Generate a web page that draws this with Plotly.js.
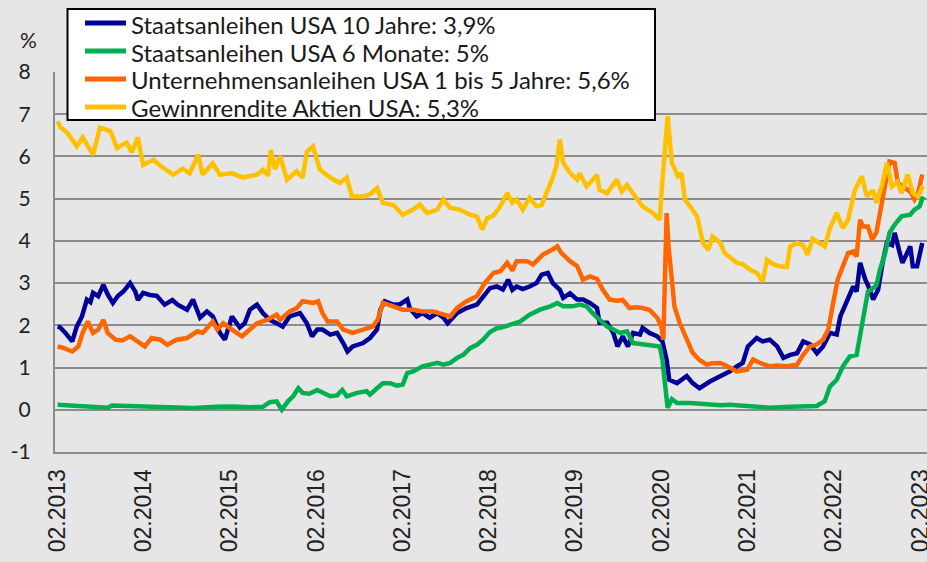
<!DOCTYPE html>
<html><head><meta charset="utf-8">
<script src="https://cdn.plot.ly/plotly-3.0.1.min.js"></script>
<style>html,body{margin:0;padding:0;background:#e6e6e6;}#chart{width:927px;height:562px;}</style>
</head><body><div id="chart"></div>
<script>
// Series names
const seriesNames = [
  "Staatsanleihen USA 10 Jahre: 3,9%",
  "Staatsanleihen USA 6 Monate: 5%",
  "Unternehmensanleihen USA 1 bis 5 Jahre: 5,6%",
  "Gewinnrendite Aktien USA: 5,3%"
];
// Time in decimal years, values in %
const t10y = [2013.09,2013.12,2013.18,2013.26,2013.31,2013.37,2013.43,2013.47,2013.50,2013.56,2013.62,2013.67,2013.73,2013.79,2013.85,2013.93,2013.99,2014.02,2014.08,2014.16,2014.24,2014.33,2014.42,2014.48,2014.59,2014.66,2014.74,2014.82,2014.89,2014.97,2015.03,2015.11,2015.20,2015.26,2015.32,2015.40,2015.47,2015.55,2015.63,2015.70,2015.78,2015.90,2015.98,2016.04,2016.10,2016.16,2016.25,2016.33,2016.40,2016.45,2016.51,2016.63,2016.71,2016.79,2016.83,2016.88,2016.98,2017.06,2017.14,2017.17,2017.25,2017.32,2017.40,2017.49,2017.56,2017.61,2017.72,2017.83,2017.95,2018.02,2018.10,2018.18,2018.25,2018.31,2018.36,2018.41,2018.48,2018.56,2018.64,2018.70,2018.77,2018.83,2018.91,2018.95,2019.03,2019.11,2019.18,2019.26,2019.34,2019.37,2019.46,2019.53,2019.58,2019.64,2019.70,2019.76,2019.84,2019.87,2019.95,2020.04,2020.10,2020.15,2020.18,2020.27,2020.38,2020.45,2020.53,2020.65,2020.77,2020.88,2020.96,2021.03,2021.09,2021.19,2021.26,2021.34,2021.43,2021.50,2021.58,2021.66,2021.73,2021.81,2021.89,2021.96,2022.04,2022.12,2022.16,2022.24,2022.31,2022.35,2022.39,2022.45,2022.48,2022.54,2022.60,2022.65,2022.70,2022.76,2022.79,2022.85,2022.88,2022.97,2023.00,2023.05,2023.11];
const v10y = [1.97,1.95,1.82,1.62,1.97,2.21,2.61,2.55,2.77,2.69,2.96,2.73,2.53,2.70,2.80,3.00,2.80,2.60,2.77,2.72,2.70,2.49,2.60,2.49,2.37,2.61,2.18,2.33,2.21,1.82,1.66,2.21,1.95,2.05,2.37,2.49,2.29,2.13,2.05,1.97,2.21,2.29,2.05,1.74,1.90,1.90,1.78,1.82,1.58,1.38,1.50,1.58,1.70,1.90,2.37,2.57,2.49,2.50,2.61,2.40,2.21,2.29,2.18,2.29,2.18,2.05,2.29,2.41,2.49,2.69,2.88,2.92,2.85,3.08,2.84,2.92,2.86,2.92,3.00,3.20,3.24,3.00,2.84,2.65,2.76,2.61,2.61,2.53,2.41,2.06,2.06,1.82,1.50,1.74,1.50,1.82,1.78,1.94,1.82,1.74,1.62,1.18,0.71,0.63,0.80,0.63,0.51,0.67,0.79,0.91,1.03,1.11,1.50,1.70,1.62,1.66,1.50,1.23,1.30,1.34,1.62,1.55,1.34,1.50,1.82,1.78,2.21,2.61,2.92,2.80,3.48,3.08,2.95,2.61,2.84,3.48,3.95,3.90,4.19,3.71,3.48,3.87,3.40,3.40,3.95];

const t6m = [2013.09,2013.38,2013.67,2013.72,2013.96,2014.36,2014.66,2014.94,2015.12,2015.32,2015.47,2015.55,2015.63,2015.69,2015.76,2015.82,2015.88,2015.93,2016.01,2016.10,2016.16,2016.25,2016.33,2016.39,2016.44,2016.56,2016.67,2016.71,2016.79,2016.86,2016.94,2017.02,2017.09,2017.14,2017.21,2017.32,2017.40,2017.49,2017.56,2017.64,2017.72,2017.79,2017.87,2017.95,2018.02,2018.10,2018.18,2018.22,2018.33,2018.45,2018.56,2018.68,2018.80,2018.88,2018.95,2019.06,2019.14,2019.22,2019.29,2019.37,2019.46,2019.53,2019.61,2019.69,2019.76,2019.87,2019.99,2020.07,2020.10,2020.13,2020.16,2020.21,2020.27,2020.42,2020.61,2020.77,2020.88,2021.11,2021.34,2021.58,2021.81,2021.89,2021.92,2021.98,2022.04,2022.12,2022.19,2022.27,2022.35,2022.41,2022.45,2022.48,2022.54,2022.58,2022.62,2022.68,2022.73,2022.79,2022.87,2022.97,2023.02,2023.08,2023.12];
const v6m = [0.12,0.09,0.05,0.10,0.08,0.06,0.04,0.07,0.08,0.06,0.07,0.18,0.20,0.00,0.20,0.32,0.51,0.40,0.38,0.47,0.40,0.32,0.34,0.47,0.32,0.40,0.44,0.36,0.51,0.63,0.63,0.57,0.60,0.87,0.91,1.03,1.07,1.11,1.07,1.11,1.23,1.30,1.46,1.54,1.66,1.84,1.93,1.94,2.01,2.09,2.25,2.37,2.45,2.53,2.45,2.45,2.49,2.45,2.29,2.13,1.97,1.90,1.82,1.86,1.58,1.55,1.53,1.50,1.18,0.47,0.05,0.25,0.16,0.16,0.12,0.11,0.12,0.09,0.05,0.07,0.09,0.09,0.13,0.20,0.55,0.71,1.03,1.26,1.30,1.97,2.53,2.80,2.88,2.95,3.32,3.71,4.19,4.38,4.58,4.62,4.74,4.82,5.05];

const tCorp = [2013.09,2013.15,2013.26,2013.33,2013.38,2013.44,2013.50,2013.56,2013.62,2013.67,2013.76,2013.84,2013.93,2014.01,2014.10,2014.18,2014.28,2014.36,2014.47,2014.59,2014.71,2014.77,2014.89,2014.94,2015.01,2015.11,2015.23,2015.32,2015.40,2015.52,2015.63,2015.67,2015.78,2015.86,2015.93,2016.05,2016.11,2016.16,2016.22,2016.33,2016.40,2016.51,2016.63,2016.74,2016.80,2016.86,2016.98,2017.09,2017.21,2017.32,2017.44,2017.56,2017.64,2017.72,2017.83,2017.95,2018.04,2018.14,2018.22,2018.30,2018.36,2018.41,2018.53,2018.60,2018.71,2018.82,2018.88,2018.93,2019.03,2019.11,2019.18,2019.26,2019.34,2019.41,2019.49,2019.57,2019.64,2019.72,2019.80,2019.87,2019.95,2020.04,2020.09,2020.11,2020.15,2020.17,2020.21,2020.24,2020.30,2020.38,2020.45,2020.53,2020.61,2020.68,2020.77,2020.85,2020.96,2021.08,2021.15,2021.23,2021.34,2021.43,2021.54,2021.66,2021.73,2021.81,2021.89,2021.96,2022.02,2022.07,2022.13,2022.19,2022.25,2022.31,2022.35,2022.39,2022.42,2022.48,2022.53,2022.58,2022.62,2022.68,2022.73,2022.79,2022.83,2022.91,2022.97,2023.02,2023.06,2023.11];
const vCorp = [1.50,1.47,1.38,1.50,1.82,2.09,1.82,1.90,2.13,1.82,1.66,1.64,1.74,1.64,1.50,1.70,1.66,1.54,1.66,1.70,1.86,1.82,2.09,1.90,2.05,1.90,1.74,1.90,2.05,2.13,2.25,2.13,2.33,2.40,2.57,2.53,2.57,2.29,2.09,2.09,1.90,1.82,1.90,1.97,2.13,2.53,2.45,2.37,2.37,2.33,2.33,2.25,2.21,2.41,2.57,2.69,3.00,3.24,3.28,3.48,3.30,3.52,3.52,3.44,3.67,3.79,3.87,3.71,3.52,3.40,3.08,3.16,3.10,2.84,2.61,2.58,2.60,2.41,2.43,2.41,2.37,2.18,1.97,1.66,4.66,3.87,2.92,2.45,2.06,1.66,1.35,1.18,1.07,1.10,1.11,1.03,0.91,0.95,1.19,1.11,1.03,1.05,1.03,1.07,1.30,1.50,1.55,1.66,1.90,2.45,3.08,3.40,3.71,3.75,3.63,4.50,4.34,4.34,4.03,4.20,4.66,5.29,5.88,5.85,5.37,5.25,5.17,4.98,5.10,5.57];

const tEarn = [2013.09,2013.12,2013.20,2013.31,2013.38,2013.50,2013.58,2013.70,2013.78,2013.89,2013.95,2014.02,2014.08,2014.20,2014.28,2014.43,2014.54,2014.62,2014.72,2014.77,2014.89,2014.97,2015.11,2015.24,2015.40,2015.47,2015.53,2015.56,2015.61,2015.67,2015.75,2015.86,2015.93,2015.98,2016.05,2016.13,2016.25,2016.36,2016.44,2016.50,2016.63,2016.71,2016.79,2016.86,2016.98,2017.09,2017.21,2017.29,2017.37,2017.49,2017.56,2017.64,2017.75,2017.87,2017.95,2018.01,2018.07,2018.14,2018.22,2018.30,2018.36,2018.41,2018.48,2018.56,2018.64,2018.70,2018.76,2018.82,2018.87,2018.91,2018.95,2019.03,2019.11,2019.14,2019.22,2019.34,2019.37,2019.46,2019.57,2019.63,2019.69,2019.76,2019.87,2019.99,2020.07,2020.09,2020.13,2020.16,2020.21,2020.24,2020.28,2020.32,2020.36,2020.42,2020.50,2020.57,2020.63,2020.68,2020.77,2020.82,2020.96,2021.03,2021.11,2021.19,2021.26,2021.31,2021.38,2021.46,2021.54,2021.58,2021.66,2021.73,2021.78,2021.84,2021.92,2021.98,2022.04,2022.12,2022.19,2022.25,2022.33,2022.41,2022.47,2022.54,2022.58,2022.65,2022.70,2022.76,2022.82,2022.87,2022.94,2023.00,2023.06,2023.12];
const vEarn = [6.83,6.70,6.56,6.24,6.45,6.04,6.68,6.60,6.20,6.33,6.10,6.45,5.80,5.92,5.78,5.57,5.71,5.60,6.04,5.57,5.84,5.57,5.60,5.50,5.57,5.68,5.55,6.15,5.70,6.00,5.45,5.65,5.50,6.11,6.24,5.69,5.50,5.37,5.50,5.05,5.05,5.10,5.25,4.90,4.85,4.62,4.74,4.86,4.66,4.74,4.98,4.78,4.74,4.62,4.58,4.27,4.54,4.60,4.82,5.13,4.90,4.98,4.74,5.02,4.82,4.85,5.16,5.45,5.77,6.40,5.85,5.61,5.45,5.60,5.29,5.56,5.21,5.13,5.45,5.17,5.32,5.13,4.82,4.66,4.50,5.13,6.08,6.95,5.85,5.69,5.53,5.60,4.98,4.82,4.58,3.95,3.79,4.10,3.95,3.71,3.48,3.45,3.32,3.24,3.04,3.55,3.45,3.40,3.38,3.87,3.95,3.90,3.67,4.05,3.95,3.87,4.30,4.66,4.30,4.50,5.21,5.53,5.05,5.20,4.90,5.37,5.85,5.29,5.40,5.13,5.57,5.13,5.05,5.30];

const yTicks = [-1,0,1,2,3,4,5,6,7,8];
const colors = ["#000099","#00B050","#FF6600","#FFC000"];

function toDate(y){
  const yr = Math.floor(y);
  const start = Date.UTC(yr,0,1), end = Date.UTC(yr+1,0,1);
  const d = new Date(start + (y-yr)*(end-start));
  return d.toISOString().slice(0,10);
}
const sets = [[t10y,v10y],[t6m,v6m],[tCorp,vCorp],[tEarn,vEarn]];
const traces = sets.map((s,i)=>({
  x: s[0].map(toDate), y: s[1], type:'scatter', mode:'lines',
  name: seriesNames[i], line:{color:colors[i], width:4.5}, showlegend:false
}));

// Plot area geometry in pixels (for paper-coordinate legend placement)
const W = 927, H = 562, ML = 55, MR = 0, MT = 72, MB = 110;
const pw = W-ML-MR, ph = H-MT-MB;
const px = v => (v-ML)/pw;
const py = v => (H-MB-v)/ph;

const shapes = [{type:'rect', xref:'paper', yref:'paper', x0:px(67.5), x1:px(655), y0:py(120), y1:py(9),
  fillcolor:'#ffffff', line:{color:'#000000', width:2}, layer:'above'}];
const annotations = [{text:'%', xref:'paper', yref:'paper', x:px(28), y:py(40), xanchor:'center', yanchor:'middle',
    showarrow:false, font:{family:'Lato', size:21, color:'#222'}}];
const rowY = [23, 51, 79, 107];
seriesNames.forEach((n,i)=>{
  shapes.push({type:'line', xref:'paper', yref:'paper', x0:px(85), x1:px(126), y0:py(rowY[i]), y1:py(rowY[i]),
    line:{color:colors[i], width:5}, layer:'above'});
  annotations.push({text:n, xref:'paper', yref:'paper', x:px(129), y:py(rowY[i]+1), xanchor:'left', yanchor:'middle',
    showarrow:false, font:{family:'Lato', size:24, color:'#1a1a1a'}});
});

const layout = {
  width:W, height:H,
  paper_bgcolor:'#e6e6e6', plot_bgcolor:'#e6e6e6',
  margin:{l:ML, r:MR, t:MT, b:MB},
  font:{family:'Lato, sans-serif', color:'#222'},
  showlegend:false,
  xaxis:{type:'date', range:[toDate(2013.06), toDate(2023.165)],
    tick0:'2013-02-01', dtick:'M12', tickformat:'%m.%Y', tickangle:-90,
    tickfont:{family:'Liberation Sans, Arial', size:23, color:'#222'},
    showgrid:false, zeroline:false, showline:true, linecolor:'#8c8c8c', linewidth:2,
    ticks:'', ticklabelstandoff:6, ticklabeloverflow:'allow'},
  yaxis:{range:[-1,8], tickvals:yTicks, ticktext:yTicks.map(String),
    tickfont:{family:'Lato', size:21, color:'#222'},
    showgrid:true, gridcolor:'#8c8c8c', gridwidth:2, zeroline:false,
    showline:true, linecolor:'#8c8c8c', linewidth:2, ticks:'', ticklabelstandoff:18},
  shapes: shapes,
  annotations: annotations
};
Plotly.newPlot('chart', traces, layout, {displayModeBar:false, staticPlot:true});
</script></body></html>
